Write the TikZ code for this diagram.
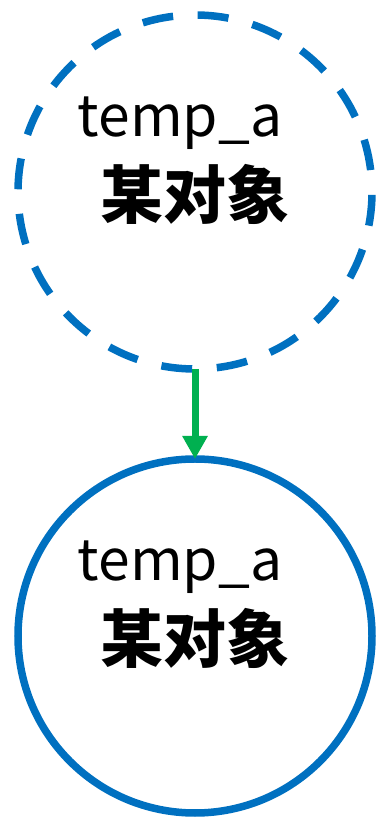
\documentclass[tikz,border=0pt]{standalone}
\usepackage{fontspec}
\setmainfont{Noto Sans CJK SC}
\usetikzlibrary{arrows.meta}
\definecolor{objblue}{RGB}{0,112,192}
\definecolor{flowgreen}{RGB}{0,176,80}
\begin{document}
\begin{tikzpicture}[x=1pt,y=1pt,
    objcircle/.style={circle,draw=objblue,line width=7.5pt,minimum size=354pt,inner sep=0pt,outer sep=0pt},
    varname/.style={anchor=base,font=\fontsize{57}{57}\selectfont},
    objname/.style={anchor=base,font=\fontsize{63}{63}\selectfont\bfseries},
    flow/.style={draw=flowgreen,line width=7pt,-{Triangle[width=24pt,length=23pt]}}]
    \useasboundingbox (0,0) rectangle (378,819);

    % Draw the old object (dashed) and the new one
    \node[objcircle,dash pattern=on 31pt off 24.6pt,dash phase=33.6pt] (olda) at (195,627) {};
    \node[objcircle] (newa) at (195,183) {};

    % Add the labels inside the circles
    \node[varname] (oldvar) at ([xshift=-15pt,yshift=55pt]olda.center) {temp\_a};
    \node[objname] (oldobj) at ([yshift=-27pt]olda.center) {某对象};
    \node[varname] (newvar) at ([xshift=-15pt,yshift=55pt]newa.center) {temp\_a};
    \node[objname] (newobj) at ([yshift=-27pt]newa.center) {某对象};

    % Arrow from the old object to the new one
    \draw[flow] (olda.south) -- (newa.north);
\end{tikzpicture}
\end{document}
